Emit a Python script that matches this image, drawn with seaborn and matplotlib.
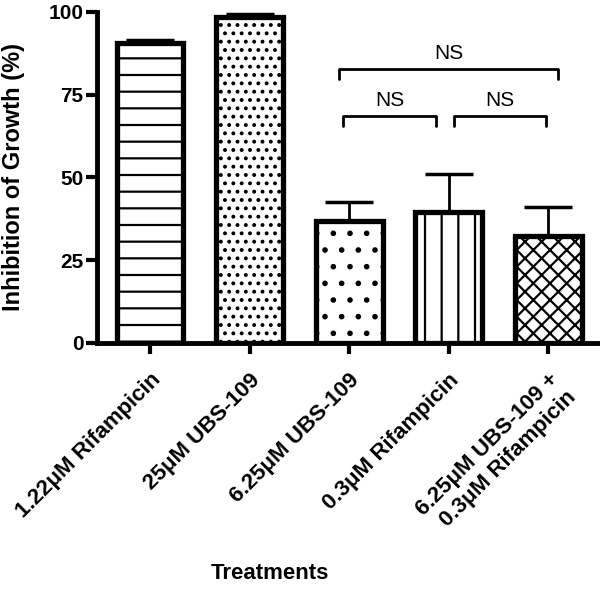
import matplotlib
matplotlib.use("Agg")
import matplotlib.pyplot as plt
import seaborn as sns
import numpy as np

treatments = ["1.22\u03bcM Rifampicin", "25\u03bcM UBS-109", "6.25\u03bcM UBS-109",
              "0.3\u03bcM Rifampicin", "6.25\u03bcM UBS-109 +\n0.3\u03bcM Rifampicin"]
inhibition = [90.6, 98.6, 36.9, 39.6, 32.3]
error = [0.8, 0.7, 5.7, 11.3, 8.8]
hatches = ["-", "..", ".", "|", "xx"]

# significance brackets: (left, right, height, label)
bracket_left = [1.9, 1.94, 3.05]
bracket_right = [4.1, 2.87, 3.98]
bracket_y = [82.8, 68.6, 68.6]
bracket_labels = ["NS", "NS", "NS"]

sns.set_style("ticks")
plt.rcParams["font.family"] = ["Liberation Sans", "DejaVu Sans"]
plt.rcParams["hatch.linewidth"] = 1.6
plt.rcParams["text.color"] = "black"
plt.rcParams["axes.labelcolor"] = "black"
plt.rcParams["xtick.color"] = "black"
plt.rcParams["ytick.color"] = "black"
plt.rcParams["axes.edgecolor"] = "black"

fig = plt.figure(figsize=(6, 5.97), dpi=100)
ax = fig.add_axes([0.162, 0.4255, 0.835, 0.5545])

sns.barplot(x=treatments, y=inhibition, color="white", edgecolor="black",
            linewidth=3.8, width=0.67, ax=ax)
for patch, h in zip(ax.patches, hatches):
    patch.set_hatch(h)

pos = np.arange(len(treatments))
ax.errorbar(pos, inhibition, yerr=[np.zeros(len(error)), error], fmt="none",
            ecolor="black", elinewidth=2, capsize=17, capthick=2.5, zorder=1)

for x0, x1, y, lab in zip(bracket_left, bracket_right, bracket_y, bracket_labels):
    ax.plot([x0, x0, x1, x1], [y - 3, y, y, y - 3], color="black", lw=2, clip_on=False)
    ax.text((x0 + x1) / 2, y + 1.8, lab, ha="center", va="bottom", fontsize=15)

ax.set_ylim(0, 100)
ax.set_xlim(-0.53, 4.5)
ax.set_yticks([0, 25, 50, 75, 100])
ax.set_yticklabels(["0", "25", "50", "75", "100"], fontsize=15, fontweight="bold")
ax.set_xticks(pos)
ax.set_xticklabels(treatments, rotation=45, ha="right", rotation_mode="anchor",
                   fontsize=16, fontweight="bold")
ax.tick_params(axis="both", width=3, length=8, direction="out", pad=2)
ax.tick_params(axis="x", pad=11)
for s in ["left", "bottom"]:
    ax.spines[s].set_linewidth(3.5)
sns.despine(ax=ax)

ax.set_ylabel("Inhibition of Growth (%)", fontsize=17, fontweight="bold")
ax.yaxis.set_label_coords(-0.145, 0.5)
ax.set_xlabel("Treatments", fontsize=16, fontweight="bold")
ax.xaxis.set_label_coords(0.345, -0.665)

fig.savefig("out.png", dpi=100)
